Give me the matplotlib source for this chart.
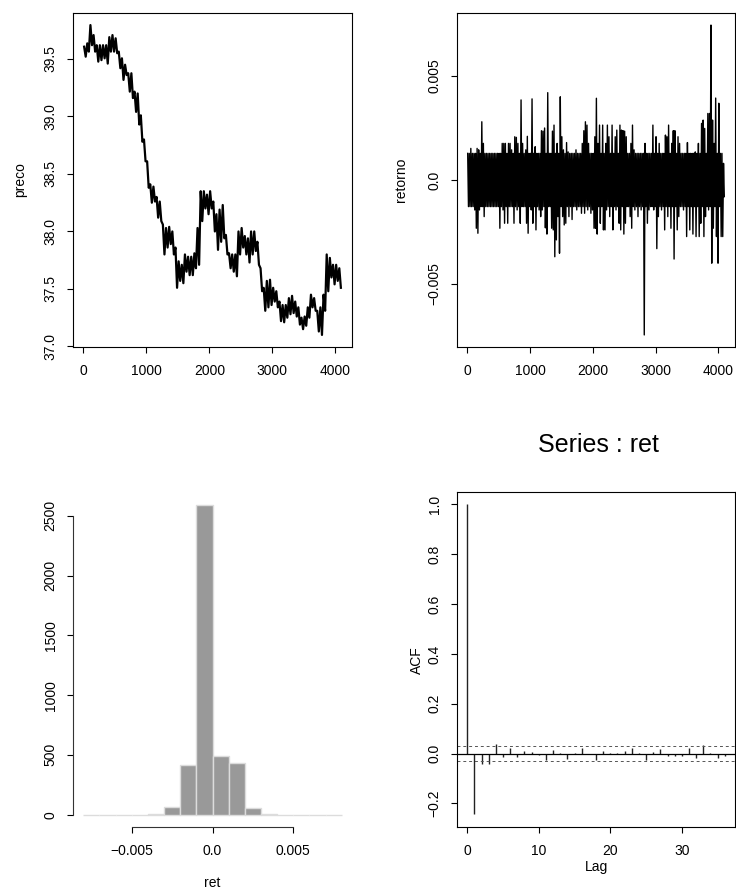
import numpy as np
import matplotlib
matplotlib.use("Agg")
import matplotlib.pyplot as plt

plt.rcParams['font.family'] = ['Liberation Sans', 'DejaVu Sans']

# ---------------- data ----------------
# price: highest / lowest price in each block of 50 observations
price_block = 50
price_hi = [39.607, 39.636, 39.795, 39.708, 39.62, 39.62, 39.62, 39.62, 39.69, 39.708,
            39.68, 39.564, 39.506, 39.45, 39.376, 39.376, 39.216, 39.20, 39.01, 38.80,
            38.61, 38.41, 38.39, 38.30, 38.26, 38.06, 38.03, 38.04, 38.00, 37.86,
            37.74, 37.71, 37.80, 37.78, 37.78, 37.81, 38.03, 38.35, 38.35, 38.32,
            38.35, 38.26, 38.15, 38.19, 38.23, 37.97, 37.81, 37.80, 37.80, 38.00,
            38.03, 37.96, 37.94, 38.00, 38.00, 37.91, 37.68, 37.51, 37.57, 37.58,
            37.51, 37.48, 37.39, 37.36, 37.36, 37.42, 37.44, 37.39, 37.34, 37.25,
            37.26, 37.34, 37.45, 37.42, 37.31, 37.34, 37.45, 37.80, 37.77, 37.71,
            37.71, 37.68]
price_lo = [39.52, 39.564, 39.62, 39.564, 39.477, 39.49, 39.506, 39.46, 39.564, 39.564,
            39.55, 39.42, 39.318, 39.36, 39.216, 39.16, 39.04, 38.93, 38.78, 38.61,
            38.38, 38.25, 38.26, 38.12, 38.09, 37.80, 37.86, 37.89, 37.80, 37.51,
            37.57, 37.55, 37.65, 37.62, 37.62, 37.68, 37.71, 38.09, 38.20, 38.15,
            38.20, 38.00, 37.84, 37.91, 37.94, 37.80, 37.68, 37.65, 37.61, 37.80,
            37.86, 37.80, 37.73, 37.80, 37.83, 37.71, 37.48, 37.31, 37.34, 37.36,
            37.39, 37.34, 37.22, 37.21, 37.25, 37.28, 37.29, 37.26, 37.19, 37.15,
            37.18, 37.25, 37.34, 37.31, 37.13, 37.10, 37.31, 37.48, 37.60, 37.54,
            37.57, 37.51]

# returns: highest / lowest value in each block of 25 observations (units of 1e-3)
ret_block = 25
ret_hi = [1.28, 1.28, 1.52, 1.28, 1.28, 1.28, 1.52, 1.45, 1.28, 2.80,
          1.76, 1.28, 1.28, 1.28, 1.28, 1.28, 1.28, 1.28, 1.28, 1.28,
          1.28, 1.28, 1.76, 1.76, 1.76, 1.28, 1.76, 1.76, 1.45, 1.28,
          2.08, 2.05, 1.76, 1.28, 3.85, 1.76, 1.28, 1.45, 2.10, 1.28,
          1.28, 3.90, 1.28, 1.60, 1.28, 1.28, 1.28, 2.37, 2.35, 2.50,
          1.28, 4.20, 1.28, 1.28, 2.35, 2.64, 1.28, 1.76, 1.28, 4.00,
          2.08, 1.45, 1.28, 1.80, 1.35, 1.28, 1.28, 1.28, 1.28, 1.45,
          1.28, 1.28, 1.28, 1.76, 2.37, 2.80, 2.64, 1.76, 1.28, 1.28,
          1.28, 2.08, 3.93, 1.76, 2.64, 1.28, 2.64, 1.28, 1.76, 2.64,
          2.08, 1.28, 2.64, 1.28, 2.08, 2.40, 1.28, 2.64, 2.40, 2.37,
          2.35, 2.08, 1.28, 1.28, 1.76, 2.64, 1.45, 1.28, 1.28, 1.28,
          1.28, 1.28, 1.28, 1.76, 1.28, 1.28, 1.28, 1.28, 2.64, 1.28,
          2.08, 1.28, 1.76, 1.28, 1.28, 1.28, 2.16, 2.08, 2.64, 1.28,
          1.76, 2.37, 2.37, 1.28, 2.08, 1.76, 1.28, 1.28, 1.28, 1.28,
          1.80, 1.28, 1.28, 1.28, 1.28, 1.35, 1.28, 1.76, 1.28, 2.72,
          2.88, 2.48, 1.28, 3.20, 3.20, 7.45, 2.88, 1.76, 3.94, 1.28,
          3.69, 1.28, 1.28, 0.80]
ret_lo = [-1.28, -1.28, -1.28, -1.28, -1.44, -2.32, -2.56, -1.44, -1.28, -1.28,
          -1.76, -1.28, -1.28, -1.28, -1.28, -1.28, -1.28, -1.28, -1.28, -1.28,
          -2.32, -1.28, -1.44, -2.08, -1.28, -2.08, -1.28, -1.28, -1.28, -2.08,
          -1.28, -1.44, -1.28, -2.08, -1.28, -1.28, -1.28, -2.08, -2.56, -1.28,
          -1.44, -2.08, -1.28, -2.40, -1.28, -1.44, -1.76, -1.44, -1.28, -2.30,
          -2.60, -1.28, -1.28, -2.32, -2.40, -3.69, -2.88, -1.76, -3.52, -1.28,
          -1.76, -2.16, -2.08, -1.28, -1.76, -1.28, -1.90, -1.28, -1.28, -1.44,
          -1.28, -1.28, -1.60, -1.28, -1.60, -1.28, -1.44, -1.28, -1.60, -1.44,
          -2.32, -2.32, -2.60, -1.28, -2.08, -1.28, -2.40, -2.40, -1.44, -1.28,
          -1.76, -1.28, -2.40, -1.28, -1.44, -1.28, -2.08, -2.40, -1.28, -2.60,
          -2.08, -1.28, -1.28, -1.76, -2.32, -1.28, -1.44, -1.28, -1.76, -1.28,
          -1.44, -1.28, -7.45, -1.28, -2.08, -1.44, -1.28, -1.28, -1.44, -1.28,
          -3.30, -1.76, -1.28, -1.44, -1.28, -2.40, -1.28, -1.76, -1.28, -2.32,
          -1.28, -3.80, -1.28, -2.40, -1.76, -1.28, -1.28, -1.44, -1.28, -2.72,
          -1.28, -2.40, -1.28, -2.60, -1.28, -2.72, -1.28, -2.72, -2.08, -1.28,
          -2.72, -1.76, -1.28, -1.44, -1.28, -4.00, -2.32, -1.28, -2.72, -4.00,
          -1.28, -2.72, -2.72, -0.80]

# histogram of returns
hist_edges = [-0.008, -0.007, -0.006, -0.005, -0.004, -0.003, -0.002, -0.001, 0.0,
              0.001, 0.002, 0.003, 0.004, 0.005, 0.006, 0.007, 0.008]
hist_counts = [1, 0, 0, 0, 5, 61, 417, 2587, 492, 428, 53, 8, 0, 0, 0, 1]

# autocorrelation of returns, lags 0..36
acf_vals = [1.0, -0.242, -0.044, -0.041, 0.039, -0.015, 0.023, -0.015, 0.009, 0.005,
            -0.007, -0.028, 0.016, 0.003, -0.021, 0.003, 0.023, -0.001, -0.027, 0.012,
            0.003, 0.003, 0.009, 0.023, 0.003, -0.028, 0.007, 0.017, -0.011, -0.011,
            -0.009, 0.023, -0.019, 0.035, 0.001, -0.017, -0.009]
acf_conf = 0.031

# ---------------- figure ----------------
W, H = 736, 892
fig = plt.figure(figsize=(W / 100, H / 100), dpi=100)

def make_ax(x0, y0, x1, y1):
    return fig.add_axes([x0 / W, 1 - y1 / H, (x1 - x0) / W, (y1 - y0) / H])

FS = 10

def style(ax):
    for s in ax.spines.values():
        s.set_linewidth(0.8)
    ax.tick_params(direction='out', length=4, width=0.8, labelsize=FS)
    ax.tick_params(axis='x', pad=8.5)
    ax.tick_params(axis='y', labelrotation=90, pad=7)
    for lab in ax.get_yticklabels():
        lab.set_va('center')

def zigzag(hi, lo, block, scale=1.0):
    xs, ys = [], []
    for k, (h, l) in enumerate(zip(hi, lo)):
        xs += [k * block + 0.25 * block, k * block + 0.75 * block]
        ys += [h * scale, l * scale]
    return xs, ys

n_obs = ret_block * len(ret_hi)
xlo, xhi = -0.04 * n_obs, 1.04 * n_obs

# Panel 1: price
ax1 = make_ax(73, 13, 352, 347)
px_, py_ = zigzag(price_hi, price_lo, price_block)
ax1.plot(px_, py_, color='black', lw=1.6)
ax1.set_xlim(xlo, xhi)
ax1.set_ylim(36.995, 39.90)
ax1.set_xticks([0, 1000, 2000, 3000, 4000])
ax1.set_yticks([37.0, 37.5, 38.0, 38.5, 39.0, 39.5])
ax1.set_yticklabels(['37.0', '37.5', '38.0', '38.5', '39.0', '39.5'])
style(ax1)
fig.text(20 / W, 1 - 180 / H, 'preco', rotation=90, ha='center', va='center', fontsize=FS)

# Panel 2: returns
rx, ry = zigzag(ret_hi, ret_lo, ret_block, 1e-3)
ax2 = make_ax(457, 13, 735, 347)
ax2.plot(rx, ry, color='black', lw=1.0)
ax2.set_xlim(xlo, xhi)
ax2.set_ylim(-0.00803, 0.00803)
ax2.set_xticks([0, 1000, 2000, 3000, 4000])
ax2.set_yticks([-0.005, 0.0, 0.005])
ax2.set_yticklabels(['\u22120.005', '0.0', '0.005'])
style(ax2)
fig.text(401 / W, 1 - 180 / H, 'retorno', rotation=90, ha='center', va='center', fontsize=FS)

# Panel 3: histogram
ax3 = make_ax(73, 493, 352, 827)
widths = np.diff(hist_edges)
ax3.bar(hist_edges[:-1], hist_counts, width=widths, align='edge',
        color='#999999', edgecolor='#dcdcdc', linewidth=1.0)
ax3.set_xlim(-0.00864, 0.00864)
ax3.set_ylim(-0.04 * max(hist_counts), 1.04 * max(hist_counts))
for s in ['top', 'right']:
    ax3.spines[s].set_visible(False)
ax3.spines['left'].set_bounds(0, 2500)
ax3.spines['bottom'].set_bounds(-0.005, 0.005)
ax3.set_xticks([-0.005, 0.0, 0.005])
ax3.set_xticklabels(['\u22120.005', '0.0', '0.005'])
ax3.set_yticks([0, 500, 1000, 1500, 2000, 2500])
style(ax3)
ax3.spines['left'].set_color('#333333')
ax3.spines['bottom'].set_color('#333333')
fig.text(212 / W, 1 - 883 / H, 'ret', ha='center', va='center', fontsize=FS)

# Panel 4: ACF
ax4 = make_ax(457, 492, 735, 827)
lags = np.arange(len(acf_vals))
ax4.vlines(lags, 0, acf_vals, color='#222222', lw=1.0)
ax4.axhline(0, color='black', lw=0.9)
ax4.axhline(acf_conf, color='#555555', lw=0.7, ls=(0, (3, 3)))
ax4.axhline(-acf_conf, color='#555555', lw=0.7, ls=(0, (3, 3)))
ax4.set_xlim(-0.04 * (len(acf_vals) - 1), 1.04 * (len(acf_vals) - 1))
ax4.set_ylim(-0.295, 1.05)
ax4.set_xticks([0, 10, 20, 30])
ax4.set_yticks([-0.2, 0.0, 0.2, 0.4, 0.6, 0.8, 1.0])
ax4.set_yticklabels(['\u22120.2', '0.0', '0.2', '0.4', '0.6', '0.8', '1.0'])
style(ax4)
fig.text(417 / W, 1 - 660 / H, 'ACF', rotation=90, ha='center', va='center', fontsize=FS)
fig.text(596 / W, 1 - 867 / H, 'Lag', ha='center', va='center', fontsize=FS)
fig.text(598 / W, 1 - 445 / H, 'Series : ret', ha='center', va='center', fontsize=18)

fig.savefig('out.png', dpi=100)
